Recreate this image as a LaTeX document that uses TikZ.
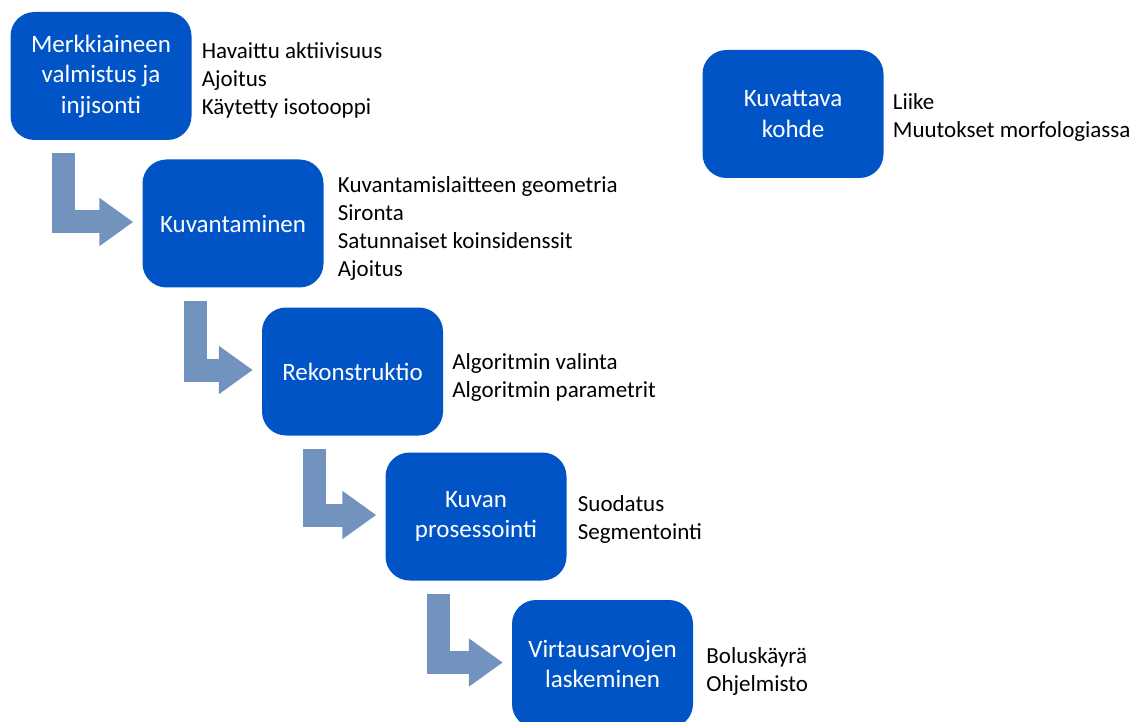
\documentclass[tikz,border=0pt]{standalone}
\usepackage{fontspec}
\setmainfont{Carlito}
\usetikzlibrary{arrows.meta,calc}
\definecolor{boxblue}{RGB}{0,84,198}
\definecolor{arrowblue}{RGB}{113,147,190}

\begin{document}
\begin{tikzpicture}[x=1pt,y=-1pt,
    stage/.style={fill=boxblue,rounded corners=24pt,minimum width=181pt,minimum height=128pt,
        text=white,align=center,inner sep=0pt,font=\fontsize{25}{30.5}\selectfont},
    notes/.style={anchor=west,align=left,inner sep=0pt,font=\fontsize{23}{28}\selectfont},
    flowarrow/.style={draw=arrowblue,line width=23pt,line join=miter,
        -{Triangle[width=46pt,length=34pt]}}]
        \useasboundingbox (0,0) rectangle (1133,722);

        \node[stage] (merk) at (101,76) {Merkkiaineen\\valmistus ja\\injisonti};
        \node[stage] (kuv) at (233,223.5) {Kuvantaminen};
        \node[stage] (rek) at (352.5,371.5) {Rekonstruktio};
        \node[stage] (pros) at (476,516.5) {Kuvan\\prosessointi};
        \node[stage] (virt) at (602.5,664) {Virtausarvojen\\laskeminen};
        \node[stage] (kohde) at (793,114) {Kuvattava\\kohde};

        \node[notes] (merknotes) at ($(merk.east)+(10,4)$) {Havaittu aktiivisuus\\Ajoitus\\Käytetty isotooppi};
        \node[notes] (kuvnotes) at ($(kuv.east)+(14,4.5)$) {Kuvantamislaitteen geometria\\Sironta\\Satunnaiset koinsidenssit\\Ajoitus};
        \node[notes] (reknotes) at ($(rek.east)+(9,5.5)$) {Algoritmin valinta\\Algoritmin parametrit};
        \node[notes] (prosnotes) at ($(pros.east)+(11,2.5)$) {Suodatus\\Segmentointi};
        \node[notes] (virtnotes) at ($(virt.east)+(13,7)$) {Boluskäyrä\\Ohjelmisto};
        \node[notes] (kohdenotes) at ($(kohde.east)+(9,3)$) {Liike\\Muutokset morfologiassa};

        \draw[flowarrow] ($(merk.south west)+(53,13)$) |- ($(kuv.west)+(-9,-1.5)$);
        \draw[flowarrow] ($(kuv.south west)+(53,13)$) |- ($(rek.west)+(-9,-1.5)$);
        \draw[flowarrow] ($(rek.south west)+(53,13)$) |- ($(pros.west)+(-9,-1.5)$);
        \draw[flowarrow] ($(pros.south west)+(53,13)$) |- ($(virt.west)+(-9,-1.5)$);
\end{tikzpicture}
\end{document}
